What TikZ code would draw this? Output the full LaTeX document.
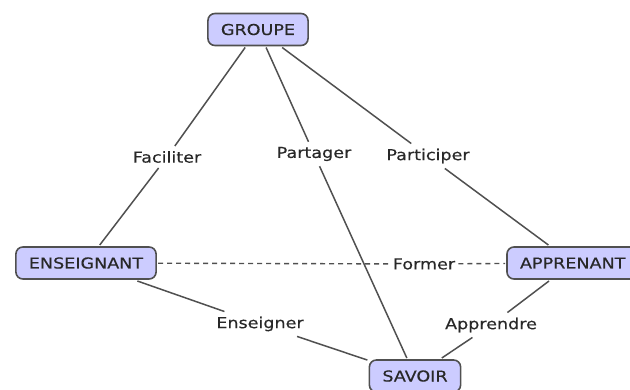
\documentclass[tikz,border=0pt]{standalone}
\usepackage{fontspec}
\setmainfont{DejaVu Sans}[FakeStretch=1.17,FakeBold=0.4]
\definecolor{boxfill}{RGB}{204,204,255}
\definecolor{boxborder}{RGB}{80,80,80}
\definecolor{textcol}{RGB}{40,40,40}
\definecolor{linecol}{RGB}{80,80,80}
\begin{document}
\begin{tikzpicture}[x=1pt,y=-1pt,
  concept/.style={draw=boxborder, fill=boxfill, line width=1.6pt, rounded corners=7pt,
    minimum height=32pt, inner xsep=13pt, inner ysep=0pt, text height=11pt, text depth=0pt,
    text=textcol, font=\fontsize{15}{18}\selectfont, outer sep=2pt},
  linkword/.style={text=textcol, font=\fontsize{15}{18}\selectfont, inner xsep=3pt, inner ysep=5pt},
  link/.style={draw=linecol, line width=1.5pt},
  dlink/.style={draw=linecol, line width=1.4pt, dash pattern=on 5pt off 4pt}]
\useasboundingbox (0,0) rectangle (630,390);
\node[concept] (groupe) at (258,29.5) {GROUPE};
\node[concept] (ens) at (86,263) {ENSEIGNANT};
\node[concept, anchor=west] (app) at (505,263) {APPRENANT};
\node[concept] (sav) at (415,376) {SAVOIR};
\node[linkword] (fac) at (167,157) {Faciliter};
\node[linkword] (par) at (314,154) {Partager};
\node[linkword] (part) at (428,156) {Participer};
\node[linkword] (form) at (424,264) {Former};
\node[linkword] (enseig) at (260,324) {Enseigner};
\node[linkword] (appr) at (491,325) {Apprendre};
\draw[link] (groupe) -- (fac);
\draw[link] (fac) -- (ens);
\draw[link] (groupe) -- (par);
\draw[link] (par) -- (sav);
\draw[link] (groupe) -- (part);
\draw[link] (part) -- (app);
\draw[dlink] (ens) -- (form);
\draw[dlink] (form) -- (app);
\draw[link] (ens) -- (enseig);
\draw[link] (enseig) -- (sav);
\draw[link] (app) -- (appr);
\draw[link] (appr) -- (sav);
\end{tikzpicture}
\end{document}
